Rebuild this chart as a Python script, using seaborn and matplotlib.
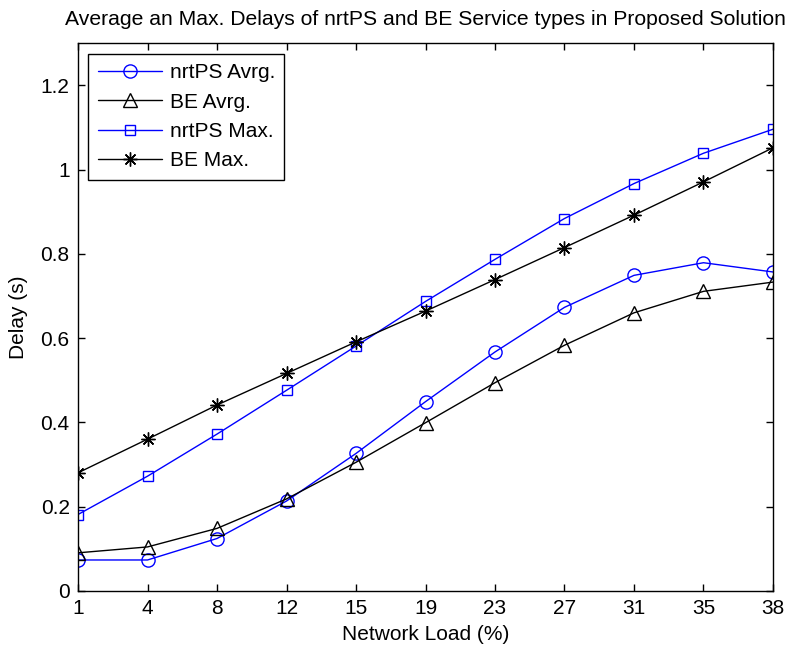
import matplotlib
matplotlib.use("Agg")
import matplotlib.pyplot as plt
import seaborn as sns
import pandas as pd

# Network load levels (%) shown as evenly spaced categories
loads = [1, 4, 8, 12, 15, 19, 23, 27, 31, 35, 38]

# Delay measurements (s)
nrtps_avg = [0.073, 0.073, 0.124, 0.213, 0.326, 0.449, 0.567, 0.673, 0.749, 0.779, 0.757]
be_avg = [0.090, 0.104, 0.148, 0.218, 0.305, 0.399, 0.494, 0.583, 0.660, 0.711, 0.733]
nrtps_max = [0.181, 0.272, 0.372, 0.476, 0.581, 0.687, 0.787, 0.884, 0.967, 1.039, 1.096]
be_max = [0.280, 0.360, 0.441, 0.516, 0.591, 0.664, 0.739, 0.815, 0.892, 0.971, 1.052]

series_names = ["nrtPS Avrg.", "BE Avrg.", "nrtPS Max.", "BE Max."]
series_values = [nrtps_avg, be_avg, nrtps_max, be_max]

sns.set_style("ticks")
plt.rcParams["font.family"] = ["Liberation Sans", "DejaVu Sans"]
plt.rcParams["text.color"] = "black"
plt.rcParams["axes.labelcolor"] = "black"

rows = []
for name, vals in zip(series_names, series_values):
    for i, v in enumerate(vals):
        rows.append({"pos": i, "load": loads[i], "delay": v, "series": name})
df = pd.DataFrame(rows)

fig = plt.figure(figsize=(7.92, 6.48), dpi=100)
ax = fig.add_axes([0.0985, 0.0884, 0.8775, 0.8447])

# asterisk marker: 8 thin spokes
asterisk = (8, 2, 0)
styles = {
    "nrtPS Avrg.": dict(color="#0000ff", marker="o", ms=9.5),
    "BE Avrg.": dict(color="black", marker="^", ms=10),
    "nrtPS Max.": dict(color="#0000ff", marker="s", ms=7.5),
    "BE Max.": dict(color="black", marker=asterisk, ms=10),
}

for name in series_names:
    st = styles[name]
    sub = df[df["series"] == name]
    sns.lineplot(
        data=sub, x="pos", y="delay", ax=ax, label=name,
        color=st["color"], marker=st["marker"], markersize=st["ms"],
        markerfacecolor="none", markeredgecolor=st["color"],
        markeredgewidth=1.0, linewidth=1.0, errorbar=None,
    )

ax.set_xlim(0, len(loads) - 1)
ax.set_ylim(0, 1.3)
ax.set_xticks(range(len(loads)))
ax.set_xticklabels([str(v) for v in loads])
ax.set_yticks([0, 0.2, 0.4, 0.6, 0.8, 1.0, 1.2])
ax.set_yticklabels(["0", "0.2", "0.4", "0.6", "0.8", "1", "1.2"])

ax.tick_params(direction="in", length=5, width=1, top=True, right=True,
               labelsize=15, pad=6, colors="black")
for sp in ax.spines.values():
    sp.set_visible(True)
    sp.set_linewidth(1.0)
    sp.set_color("black")

ax.set_xlabel("Network Load (%)", fontsize=15, labelpad=5, color="black")
ax.set_ylabel("Delay (s)", fontsize=15, labelpad=9, color="black")
ax.set_title("Average an Max. Delays of nrtPS and BE Service types in Proposed Solution",
             fontsize=15.2, pad=13, color="black")

leg = ax.legend(loc="upper left", fontsize=15, frameon=True, fancybox=False,
                edgecolor="black", framealpha=1, handlelength=3.1,
                handletextpad=0.35, labelspacing=0.5, borderpad=0.45,
                borderaxespad=0.5)
leg.get_frame().set_linewidth(1.0)
for t in leg.get_texts():
    t.set_color("black")

fig.savefig("out.png", dpi=100)
